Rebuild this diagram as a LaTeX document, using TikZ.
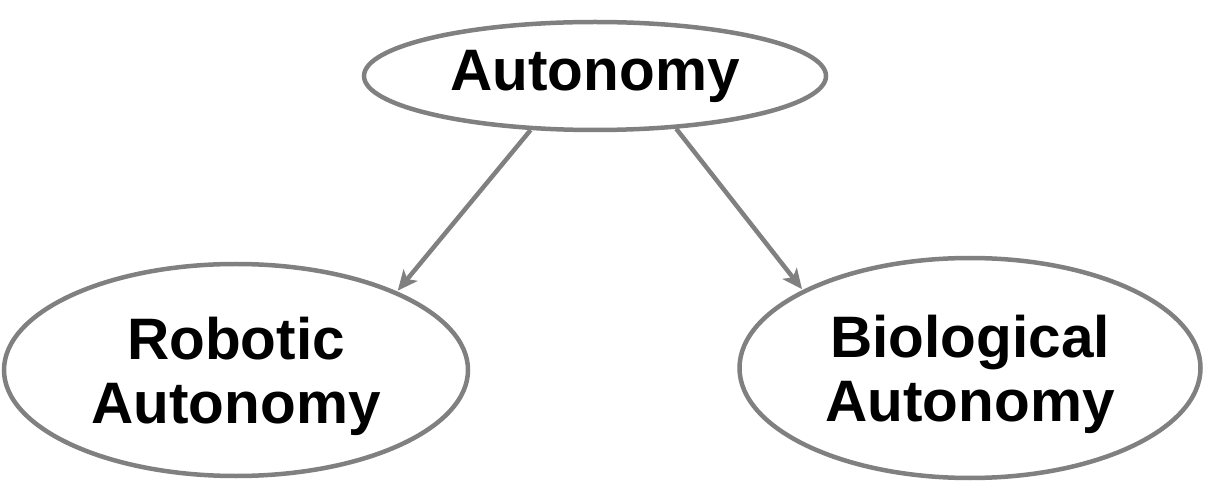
\documentclass[tikz,border=0pt]{standalone}
\usepackage{fontspec}
\setsansfont{Liberation Sans}
\usepackage{tikz}
\usetikzlibrary{arrows.meta,shapes.geometric}
\definecolor{edgegray}{RGB}{128,128,128}

\begin{document}
\begin{tikzpicture}[
  x=1pt,y=-1pt,
  font=\sffamily\bfseries,
  concept/.style={draw=edgegray,line width=4.5pt,ellipse,inner sep=0pt,fill=white,
    align=center,font=\sffamily\bfseries\fontsize{58.5}{64}\selectfont},
  subconcept/.style={concept,text depth=0pt},
  to/.style={-{Stealth[length=20pt,width=18pt,inset=5pt]},draw=edgegray,fill=edgegray,line width=4.5pt,shorten >=1pt},
  every node/.style={align=center}]
  \useasboundingbox (0,0) rectangle (1205,486);
% Position the nodes at fixed coordinates
  \node[concept,minimum width=462pt,minimum height=108pt] (Autonomy) at (595,76) {Autonomy};
  \node[subconcept,minimum width=464pt,minimum height=212pt] (RoboticAut) at (236,370) {
          Robotic \\ Autonomy
      };
  \node[subconcept,minimum width=461pt,minimum height=220pt] (BioAut) at (970,368) {
          Biological \\ Autonomy
      };

  % Draw the arrows between the nodes
  \draw[to]     (Autonomy.220)      --  (RoboticAut.26);
  \draw[to]     (Autonomy.327)      --  (BioAut.155);
\end{tikzpicture}
\end{document}
